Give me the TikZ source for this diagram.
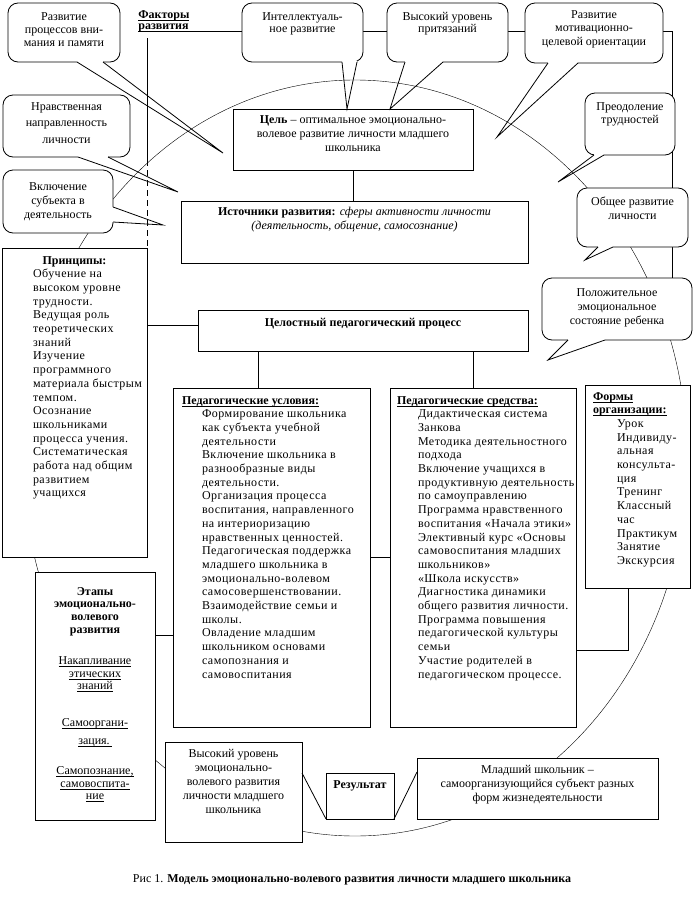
\documentclass[tikz,border=0pt]{standalone}
\usepackage{fontspec}
\setmainfont{Liberation Serif}
\usetikzlibrary{backgrounds}

% centred text block: width, height, first baseline, line skip, text
\newcommand{\ctext}[5]{\parbox[c][#2pt][t]{#1pt}{\centering\fontsize{12}{#4}\selectfont\rule{0pt}{#3pt}#5\par}}
% underline at a fixed depth
\newcommand{\uln}[1]{\leavevmode\setbox0\hbox{#1}\rlap{\rule[-2.2pt]{\wd0}{0.6pt}}\box0}
% looser letters for the lists
\newcommand{\wide}{\addfontfeatures{LetterSpace=4}}
% callout tail: base point, base point, tip
\newcommand{\tail}[3]{\draw[white, line width=1.6pt] #1 -- #2; \draw #1 -- #3 -- #2;}

\tikzset{
  frame/.style={draw, fill=white, inner sep=0pt, outer sep=0pt, anchor=north west},
  bubble/.style={frame, rounded corners=10pt},
}

\begin{document}
\begin{tikzpicture}[x=1pt, y=-1pt, line width=0.8pt, every node/.style={font=\fontsize{12}{13.7}\selectfont}]
\useasboundingbox (0,0) rectangle (698,913);

% heading
\node[anchor=north west, inner sep=0pt] (fact) at (138,5) {\parbox[c][28pt][t]{60pt}{\raggedright\bfseries\fontsize{12}{11}\selectfont\rule{0pt}{13pt}\uln{Факторы}\\\uln{развития}\par}};

% callouts
\node[bubble] (c1) at (8,3) {\ctext{112}{59}{17}{13}{Развитие\\процессов вни-\\мания и памяти}};
\node[bubble] (c2) at (3,95) {\ctext{127}{62}{15}{16.5}{Нравственная\\направленность\\личности}};
\node[bubble] (c3) at (3,170) {\ctext{110}{63}{20}{14}{Включение\\субъекта в\\деятельность}};
\node[bubble] (c4) at (242,3) {\ctext{121}{59}{17}{12.5}{Интеллектуаль-\\ное развитие}};
\node[bubble] (c5) at (387,3) {\ctext{121}{59}{17}{12.5}{Высокий уровень\\притязаний}};
\node[bubble] (c6) at (525,3) {\ctext{138}{60}{15}{13.5}{Развитие\\мотивационно-\\целевой ориентации}};
\node[bubble] (c7) at (585,93) {\ctext{90}{62}{17}{13.5}{Преодоление\\трудностей}};
\node[bubble] (c8) at (577,188) {\ctext{111}{59}{17}{14.5}{Общее развитие\\личности}};
\node[bubble] (c9) at (542,278) {\ctext{150}{62}{18}{14}{Положительное\\эмоциональное\\состояние ребенка}};

% main blocks
\node[frame] (goal) at (233,109) {\ctext{240}{61}{14}{14}{\textbf{Цель} – оптимальное эмоционально-\\волевое развитие личности младшего\\школьника}};
\node[frame] (src) at (181,201) {\ctext{347}{62}{14}{14.5}{\textbf{Источники развития:} \textit{сферы активности личности}\\\textit{(деятельность, общение, самосознание)}}};
\node[frame] (whole) at (198,310) {\ctext{330}{41}{16}{13.7}{\textbf{Целостный педагогический процесс}}};

\node[frame] (princ) at (2,248) {\parbox[c][309pt][t]{145pt}{\centering\rule{0pt}{16pt}\textbf{Принципы:}\par\raggedright\leftskip=31pt\wide Обучение на\\высоком уровне\\трудности.\\Ведущая роль\\теоретических\\знаний\\Изучение\\программного\\материала быстрым\\темпом.\\Осознание\\школьниками\\процесса учения.\\Систематическая\\работа над общим\\развитием\\учащихся\par}};

\node[frame] (cond) at (173,388) {\parbox[c][339pt][t]{197pt}{\raggedright\leftskip=9pt\rule{0pt}{16pt}\textbf{\uln{Педагогические условия:}}\par\leftskip=29pt\wide Формирование школьника\\как субъекта учебной\\деятельности\\Включение школьника в\\разнообразные виды\\деятельности.\\Организация процесса\\воспитания, направленного\\на интериоризацию\\нравственных ценностей.\\Педагогическая поддержка\\младшего школьника в\\эмоционально-волевом\\самосовершенствовании.\\Взаимодействие семьи и\\школы.\\Овладение младшим\\школьником основами\\самопознания и\\самовоспитания\par}};

\node[frame] (means) at (390,388) {\parbox[c][339pt][t]{186pt}{\raggedright\leftskip=7pt\rule{0pt}{16pt}\textbf{\uln{Педагогические средства:}}\par\leftskip=28pt\wide Дидактическая система\\Занкова\\Методика деятельностного\\подхода\\Включение учащихся в\\\mbox{продуктивную деятельность}\\по самоуправлению\\Программа нравственного\\\mbox{воспитания «Начала этики»}\\Элективный курс «Основы\\самовоспитания младших\\школьников»\\«Школа искусств»\\Диагностика динамики\\общего развития личности.\\Программа повышения\\педагогической культуры\\семьи\\Участие родителей в\\педагогическом процессе.\par}};

\node[frame] (forms) at (585,385) {\parbox[c][203pt][t]{105pt}{\raggedright\leftskip=8pt\rule{0pt}{15pt}\textbf{\uln{Формы}}\\\textbf{\uln{организации:}}\par\leftskip=32pt\wide Урок\\Индивиду-\\альная\\консульта-\\ция\\Тренинг\\Классный\\час\\Практикум\\Занятие\\Экскурсия\par}};

\node[frame] (etap) at (35,572) {\parbox[c][248pt][t]{120pt}{\centering\fontsize{12}{12.8}\selectfont\rule{0pt}{23pt}\textbf{Этапы}\\\textbf{эмоционально-}\\\textbf{волевого}\\\textbf{развития}\\[18pt]\uln{Накапливание}\\\uln{этических}\\\uln{знаний}\\[24pt]\uln{Самооргани-}\\[5pt]\uln{зация.\,}\\[17pt]\uln{Самопознание,}\\\uln{самовоспита-}\\\uln{ние}\par}};

\node[frame] (vys) at (165,742) {\ctext{137}{100}{15}{14}{Высокий уровень\\эмоционально-\\волевого развития\\личности младшего\\школьника}};
\node[frame] (res) at (326,773) {\ctext{68}{46}{15}{13.7}{\textbf{Результат}}};
\node[frame] (mlad) at (417,758) {\ctext{241}{61}{15}{14}{Младший школьник –\\самоорганизующийся субъект разных\\форм жизнедеятельности}};

\node[anchor=base, inner sep=0pt] (cap) at (352,882) {Рис 1. \textbf{Модель эмоционально-волевого развития личности младшего школьника}};

% oval and factor lines behind the blocks
\begin{scope}[on background layer]
 \draw (355,458) ellipse [x radius=332pt, y radius=378pt];
 \coordinate (fl) at (140,31);
 \draw (fl) -| ([xshift=130]c9.north west);
 \coordinate (vl) at (147,38);
 \coordinate (vd) at (147,160);
 \draw (vl) -- (vd);
 \draw[dash pattern=on 6pt off 4pt] (vd) -- (vd |- princ.north);
\end{scope}

% callout tails
\coordinate (c1tip) at (223,153);
\coordinate (c2tip) at (178,192);
\coordinate (c3tip) at (163,225);
\coordinate (c6tip) at (497,137);
\coordinate (c7tip) at (558,182);
\coordinate (c8tip) at (585,260);
\coordinate (c9tip) at (548,360);
\tail{([xshift=69]c1.south west)}{([xshift=95]c1.south west)}{(c1tip)}
\tail{([xshift=75]c2.south west)}{([xshift=105]c2.south west)}{(c2tip)}
\tail{([yshift=-37]c3.north east)}{([yshift=-52]c3.north east)}{(c3tip)}
\tail{([xshift=100]c4.south west)}{([xshift=115]c4.south west)}{([xshift=114]goal.north west)}
\tail{([xshift=18]c5.south west)}{([xshift=56]c5.south west)}{([xshift=157]goal.north west)}
\tail{([xshift=23]c6.south west)}{([xshift=53]c6.south west)}{(c6tip)}
\tail{([xshift=9]c7.south west)}{([xshift=19]c7.south west)}{(c7tip)}
\tail{([xshift=21]c8.south west)}{([xshift=36]c8.south west)}{(c8tip)}
\tail{([xshift=26]c9.south west)}{([xshift=63]c9.south west)}{(c9tip)}

% connectors
\draw (goal.south) -- (goal.south |- src.north);
\draw ([yshift=-15]whole.north west) -- ([yshift=-15]whole.north west -| princ.east);
\draw ([xshift=85]cond.north west) -- ([xshift=85]cond.north west |- whole.south);
\draw ([xshift=83]means.north west) -- ([xshift=83]means.north west |- whole.south);
\draw ([yshift=-169]cond.north east) -- ([yshift=-169]cond.north east -| means.west);
\draw ([yshift=-262]means.north east) -| ([xshift=43]forms.south west);
\draw ([yshift=-63]etap.north east) -- ([yshift=-63]etap.north east -| cond.west);
\draw ([yshift=-31]vys.north east) -- (res.south west);
\draw (res.south east) -- ([yshift=-14]mlad.north west);
\end{tikzpicture}
\end{document}
